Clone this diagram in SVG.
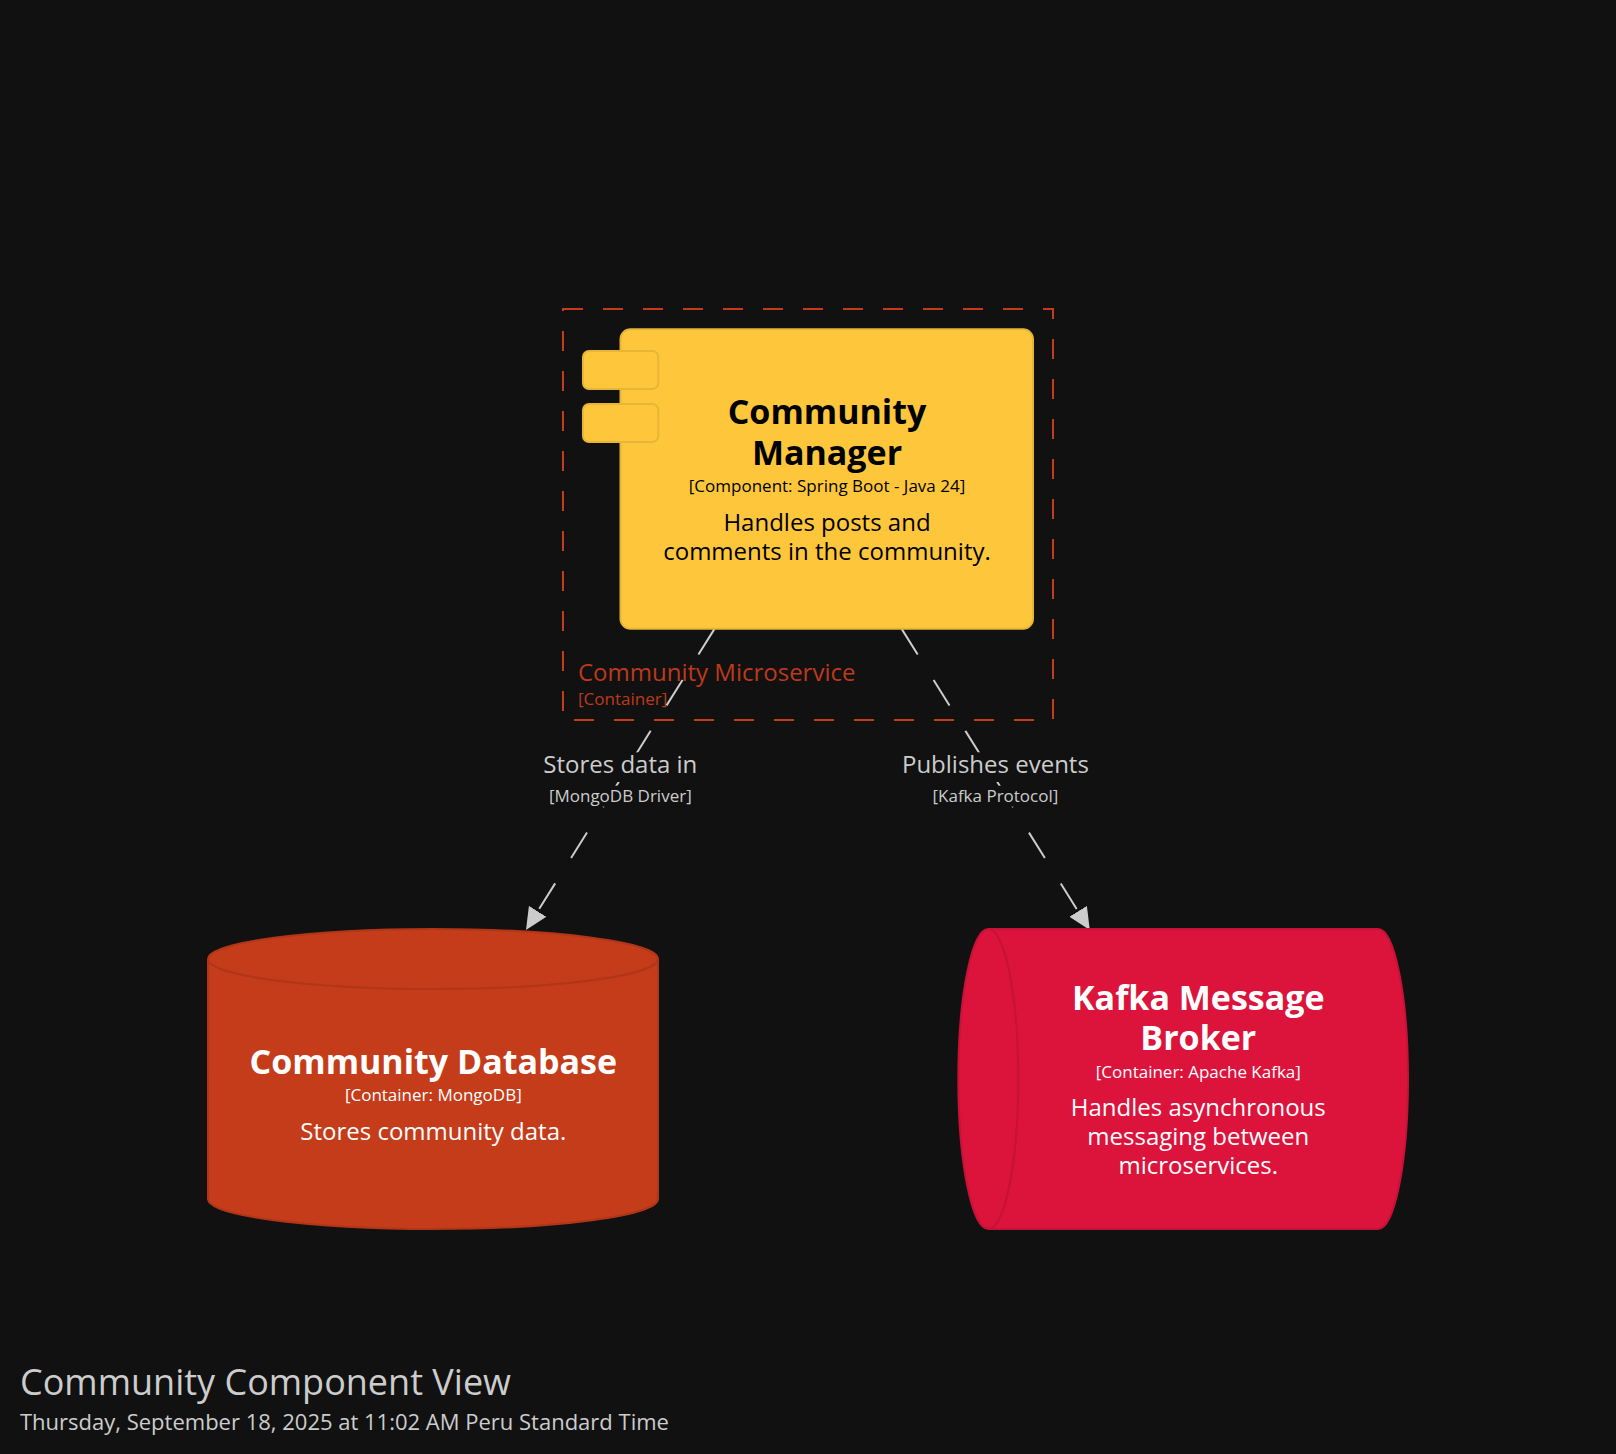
<svg xmlns="http://www.w3.org/2000/svg" width="1616" height="1454" viewBox="0 0 1616 1454">
<defs>
<style>
text{font-family:"Open Sans","Noto Sans",sans-serif}
.m{text-anchor:middle}
.t{font-size:34px;font-weight:700}
.s{font-size:17px}
.d{font-size:24px}
.l{font-size:24px;fill:#cccccc}
.k{fill:#cccccc;font-size:17px}
.w{fill:#ffffff}
.b{fill:#000000}
.r{fill:#bc3a1a}
.mask{fill:#111111}
.conn{fill:none;stroke:#cccccc;stroke-width:2;stroke-dasharray:30 30}
</style>
<marker id="arrow" markerUnits="userSpaceOnUse" markerWidth="23" markerHeight="22" refX="22" refY="10.5" orient="auto"><path d="M0,0.2 L22,10.5 L0,20.8 Z" fill="#cccccc"/></marker>
</defs>
<rect width="1616" height="1454" fill="#111111"/>
<g id="boundary">
<rect x="563" y="309" width="490" height="411" fill="none" stroke="#c43c1a" stroke-width="2" stroke-dasharray="20 20"/>
<text class="r" x="578" y="680.5" font-size="24">Community Microservice</text>
<text class="r" x="578" y="705" font-size="17">[Container]</text>
</g>
<g id="connectors">
<path class="conn" d="M714.35,629.1 L526,930" marker-end="url(#arrow)"/>
<path class="conn" d="M901.8,629.1 L1089.8,930" marker-end="url(#arrow)"/>
<rect class="mask" x="544" y="752.3" width="153" height="29.7"/>
<rect class="mask" x="549" y="785.7" width="143" height="21"/>
<rect class="mask" x="903" y="752.3" width="186" height="29.7"/>
<rect class="mask" x="933" y="785.7" width="126" height="21"/>
<text class="l m" x="620.3" y="772.7">Stores data in</text>
<text class="k m" x="620.3" y="802">[MongoDB Driver]</text>
<text class="l m" x="995.4" y="772.7">Publishes events</text>
<text class="k m" x="995.4" y="802">[Kafka Protocol]</text>
</g>
<g id="community-manager">
<rect x="620.5" y="329.3" width="412.5" height="299.5" rx="10" fill="#fec73b" stroke="#e8b637" stroke-width="2"/>
<rect x="583" y="351" width="75.3" height="38" rx="6" fill="#fec73b" stroke="#e8b637" stroke-width="2"/>
<rect x="583" y="404" width="75.3" height="38" rx="6" fill="#fec73b" stroke="#e8b637" stroke-width="2"/>
<text class="t m b" x="827" y="424">Community</text>
<text class="t m b" x="827" y="465">Manager</text>
<text class="s m b" x="827" y="492">[Component: Spring Boot - Java 24]</text>
<text class="d m b" x="827" y="531">Handles posts and</text>
<text class="d m b" x="827" y="560">comments in the community.</text>
</g>
<g id="community-database">
<path d="M208,959 A225,30 0 0 1 658,959 L658,1199 A225,30 0 0 1 208,1199 Z" fill="#c43c1a" stroke="#b03617" stroke-width="2"/>
<path d="M208,959 A225,30 0 0 0 658,959" fill="none" stroke="#b03617" stroke-width="2"/>
<text class="t m w" x="433.3" y="1074">Community Database</text>
<text class="s m w" x="433.3" y="1100.5">[Container: MongoDB]</text>
<text class="d m w" x="433.3" y="1139.5">Stores community data.</text>
</g>
<g id="kafka-message-broker">
<path d="M988.3,929 L1378,929 A30,150 0 0 1 1378,1229 L988.3,1229 A30,150 0 0 1 988.3,929 Z" fill="#dc143c" stroke="#c61236" stroke-width="2"/>
<path d="M988.3,929 A30,150 0 0 1 988.3,1229" fill="none" stroke="#c61236" stroke-width="2"/>
<text class="t m w" x="1198.3" y="1010">Kafka Message</text>
<text class="t m w" x="1198.3" y="1050">Broker</text>
<text class="s m w" x="1198.3" y="1078">[Container: Apache Kafka]</text>
<text class="d m w" x="1198.3" y="1115.5">Handles asynchronous</text>
<text class="d m w" x="1198.3" y="1144.5">messaging between</text>
<text class="d m w" x="1198.3" y="1173.5">microservices.</text>
</g>
<g id="title">
<text x="20" y="1394.5" font-size="36" fill="#cccccc">Community Component View</text>
<text x="20" y="1430" font-size="22" fill="#cccccc">Thursday, September 18, 2025 at 11:02 AM Peru Standard Time</text>
</g>
</svg>
